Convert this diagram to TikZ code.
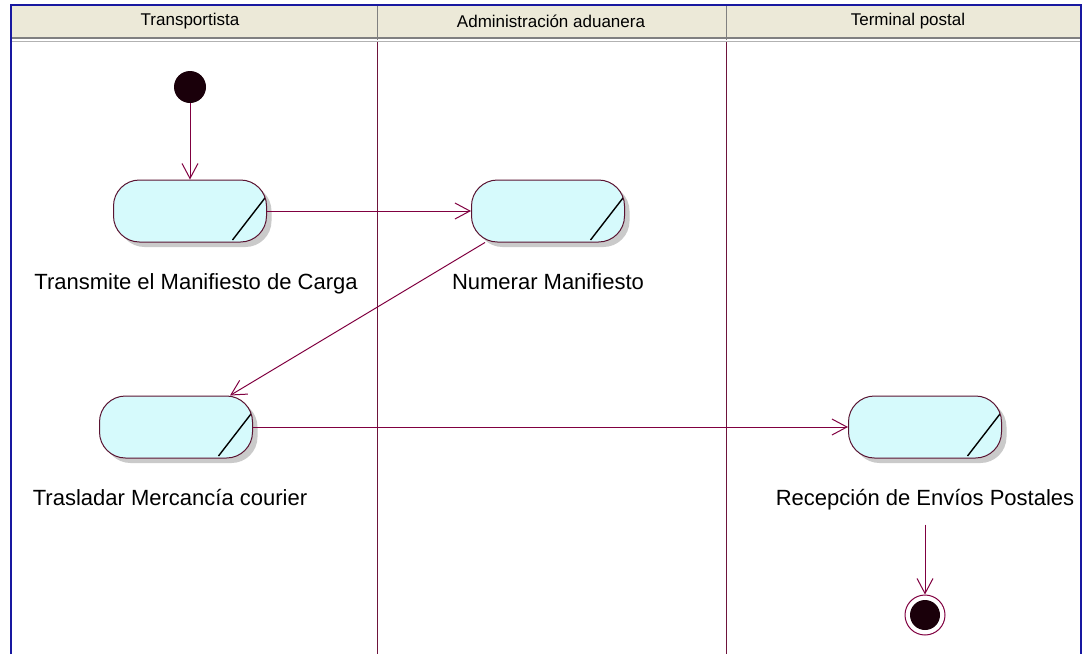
\documentclass[tikz,border=0pt]{standalone}
\usepackage{fontspec}
\setmainfont{Liberation Sans}
\usetikzlibrary{arrows.meta,positioning,shadows}
\definecolor{flowline}{RGB}{128,0,64}
\definecolor{laneline}{RGB}{110,20,60}
\definecolor{actborder}{RGB}{90,20,50}
\definecolor{actfill}{RGB}{214,250,252}
\definecolor{headfill}{RGB}{236,233,216}
\definecolor{frameblue}{RGB}{24,24,160}
\definecolor{stateblack}{RGB}{26,0,10}
\tikzset{%
	activity/.style = {
		rectangle, rounded corners=26pt, draw=actborder, fill=actfill,
		minimum width=153pt, minimum height=62pt, line width=1pt,
		drop shadow={shadow xshift=5pt, shadow yshift=-5pt, fill=black!35, opacity=0.6},
		path picture={\draw[black, line width=1.4pt] ([xshift=-34pt,yshift=2pt]path picture bounding box.south east) -- ([yshift=15pt]path picture bounding box.east);}
	},
	actlabel/.style = {
		inner sep=0pt
	},
	lanehead/.style = {
		font=\fontsize{17}{20}\selectfont
	},
	startstate/.style = {
		circle, fill=stateblack, minimum size=32pt, inner sep=0pt
	},
	endstate/.style = {
		circle, draw=flowline, fill=white, line width=1pt, minimum size=40pt, inner sep=0pt,
		path picture={\fill[stateblack] (path picture bounding box.center) circle (15pt);}
	},
	flow/.style = {
		draw=flowline, line width=1pt,
		-{Straight Barb[length=15pt, width=16pt]}
	}
}

\begin{document}
\begin{tikzpicture}[x=1pt, y=-1pt, every node/.style={font=\fontsize{22}{26}\selectfont}]
    \useasboundingbox (0,0) rectangle (1086,654);
    % Swimlanes
    \fill[headfill] (11,5) rectangle (1081,38);
    \draw[gray, line width=1.5pt] (11,38) -- (1081,38);
    \draw[gray!60, line width=1pt] (11,41) -- (1081,41);
    \draw[gray, line width=1pt] (377,5) -- (377,40);
    \draw[gray, line width=1pt] (726,5) -- (726,40);
    \draw[laneline, line width=1pt] (377,42) -- (377,654);
    \draw[laneline, line width=1pt] (726,42) -- (726,654);
    \draw[frameblue, line width=2pt] (11,654) -- (11,5) -- (1081,5) -- (1081,654);

    \node (laneA)   [lanehead]  at (190,21)   {Transportista};
    \node (laneB)   [lanehead]  at (551,21)   {Administración aduanera};
    \node (laneC)   [lanehead]  at (908,21)   {Terminal postal};

    % Activities and states
    \node (start)   [startstate] at (190,87)  {};
    \node (actA)    [activity]   at (190,211) {};
    \node (actB)    [activity]   at (548,211) {};
    \node (actC)    [activity]   at (176,427) {};
    \node (actD)    [activity]   at (925,427) {};
    \node (endD)    [endstate]   at (925,615) {};

    \node (lblA)    [actlabel, below=31pt of actA, xshift=6pt] {Transmite el Manifiesto de Carga};
    \node (lblB)    [actlabel, below=31pt of actB] {Numerar Manifiesto};
    \node (lblC)    [actlabel, below=31pt of actC, xshift=-6pt] {Trasladar Mercancía courier};
    \node (lblD)    [actlabel, below=31pt of actD] {Recepción de Envíos Postales};

    % Transitions
    \draw[flow]   (start) -- (actA);
    \draw[flow]   (actA) -- (actB);
    \draw[flow]   ([xshift=14pt]actB.south west) -- ([xshift=-23pt]actC.north east);
    \draw[flow]   (actC) -- (actD);
    \draw[flow]   ([yshift=-14pt]lblD.south) -- (endD);

\end{tikzpicture}
\end{document}
